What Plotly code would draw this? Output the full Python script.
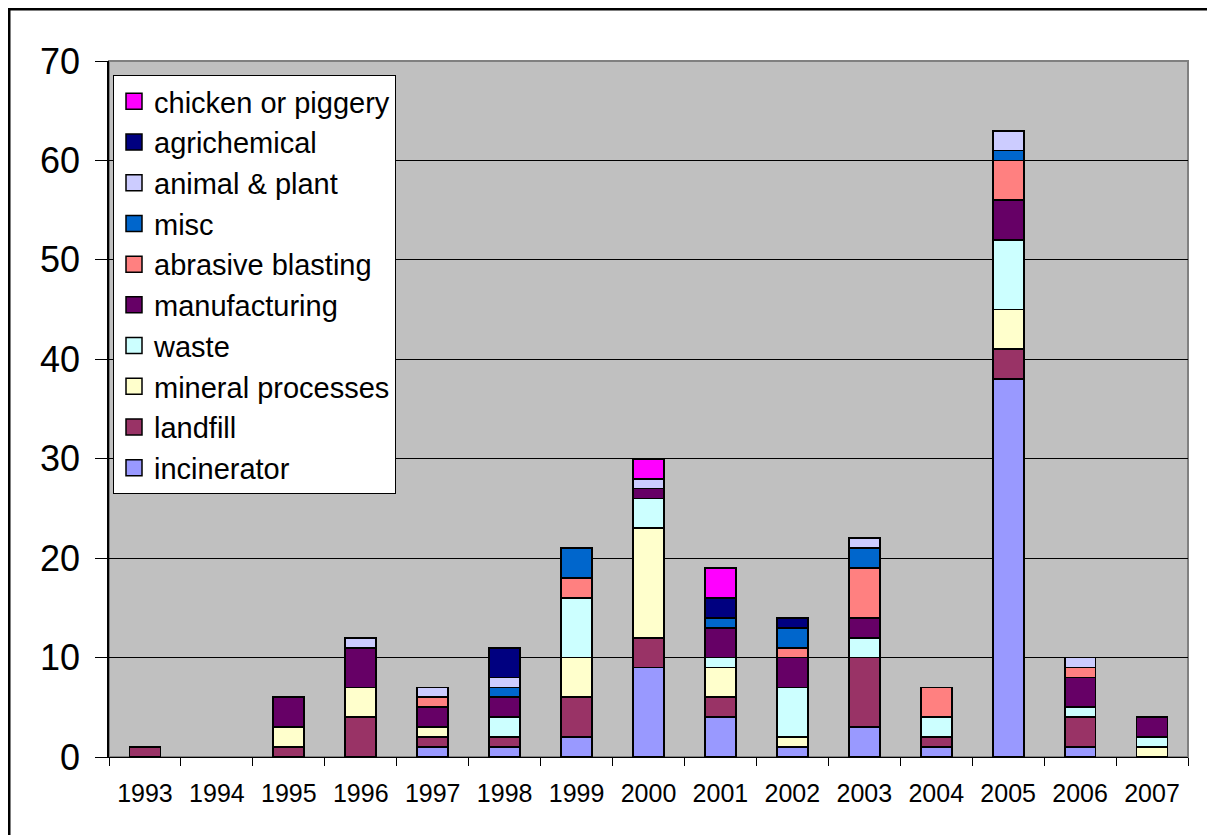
import plotly.graph_objects as go

years = ["1993", "1994", "1995", "1996", "1997", "1998", "1999", "2000",
         "2001", "2002", "2003", "2004", "2005", "2006", "2007"]

incinerator        = [0, 0, 0, 0, 1, 1, 2, 9, 4, 1, 3, 1, 38, 1, 0]
landfill           = [1, 0, 1, 4, 1, 1, 4, 3, 2, 0, 7, 1, 3, 3, 0]
mineral_processes  = [0, 0, 2, 3, 1, 0, 4, 11, 3, 1, 0, 0, 4, 0, 1]
waste              = [0, 0, 0, 0, 0, 2, 6, 3, 1, 5, 2, 2, 7, 1, 1]
manufacturing      = [0, 0, 3, 4, 2, 2, 0, 1, 3, 3, 2, 0, 4, 3, 2]
abrasive_blasting  = [0, 0, 0, 0, 1, 0, 2, 0, 0, 1, 5, 3, 4, 1, 0]
misc               = [0, 0, 0, 0, 0, 1, 3, 0, 1, 2, 2, 0, 1, 0, 0]
animal_plant       = [0, 0, 0, 1, 1, 1, 0, 1, 0, 0, 1, 0, 2, 1, 0]
agrichemical       = [0, 0, 0, 0, 0, 3, 0, 0, 2, 1, 0, 0, 0, 0, 0]
chicken_or_piggery = [0, 0, 0, 0, 0, 0, 0, 2, 3, 0, 0, 0, 0, 0, 0]

series_names = ["incinerator", "landfill", "mineral processes", "waste",
                "manufacturing", "abrasive blasting", "misc", "animal & plant",
                "agrichemical", "chicken or piggery"]
series_values = [incinerator, landfill, mineral_processes, waste, manufacturing,
                 abrasive_blasting, misc, animal_plant, agrichemical, chicken_or_piggery]
series_colors = ["#9999FF", "#993366", "#FFFFCC", "#CCFFFF", "#660066",
                 "#FF8080", "#0066CC", "#CCCCFF", "#000080", "#FF00FF"]

y_ticks = [0, 10, 20, 30, 40, 50, 60, 70]

FONT = "Arial, 'Liberation Sans', sans-serif"

fig = go.Figure()
for name, vals, col in zip(series_names, series_values, series_colors):
    # zero counts are left empty so no outline is drawn for them
    fig.add_trace(go.Bar(
        x=years, y=[v if v else None for v in vals], name=name,
        legendgroup=name, showlegend=False,
        marker=dict(color=col, line=dict(color="black", width=1.8)),
    ))
# legend entries with larger square swatches, linked to the bar traces
for name, col in zip(series_names, series_colors):
    fig.add_trace(go.Scatter(
        x=[None], y=[None], mode="markers", name=name, legendgroup=name,
        marker=dict(symbol="square", size=16, color=col,
                    line=dict(color="black", width=1.5)),
        hoverinfo="skip",
    ))

# page has an 8px body margin; work in page pixels and convert
OFF = 8
W, H = 1215 - OFF, 835 - OFF
PL, PT, PR, PB = 109, 61, 1188, 757          # plot area in page pixels
L, T = PL - OFF, PT - OFF
R, B = W - (PR - OFF), H - (PB - OFF)
pw, ph = W - L - R, H - T - B

def px_x(p):
    return (p - PL) / pw

def px_y(p):
    return (PB - p) / ph

fig.update_layout(
    width=W, height=H,
    barmode="stack", bargap=0.57,
    paper_bgcolor="white", plot_bgcolor="#C0C0C0",
    margin=dict(l=L, r=R, t=T, b=B, pad=0),
    font=dict(family=FONT, color="black"),
    legend=dict(
        x=px_x(113), y=px_y(75), xanchor="left", yanchor="top",
        bgcolor="white", bordercolor="black", borderwidth=1,
        font=dict(size=29, family=FONT, color="black"),
        traceorder="reversed", itemsizing="trace",
    ),
    xaxis=dict(
        type="category", tickson="boundaries", ticks="outside", ticklen=8,
        tickcolor="black", tickwidth=1, showgrid=False,
        showline=True, linecolor="black", linewidth=1,
        tickfont=dict(size=25, family=FONT, color="black"),
        ticklabelstandoff=14,
    ),
    yaxis=dict(
        range=[0, 70], tickvals=y_ticks, ticks="outside", ticklen=12,
        tickcolor="black", tickwidth=1,
        showgrid=True, gridcolor="black", gridwidth=1,
        showline=True, linecolor="black", linewidth=1.5,
        zeroline=False,
        tickfont=dict(size=36, family=FONT, color="black"),
        ticklabelstandoff=8,
    ),
    shapes=[
        dict(type="rect", xref="paper", yref="paper", x0=0, x1=1, y0=0, y1=1,
             line=dict(color="#808080", width=2), layer="below"),
        dict(type="rect", xref="paper", yref="paper",
             x0=px_x(9), x1=px_x(1230), y0=px_y(850), y1=px_y(9),
             line=dict(color="black", width=3), layer="above"),
    ],
)

fig.write_html("out.html")
